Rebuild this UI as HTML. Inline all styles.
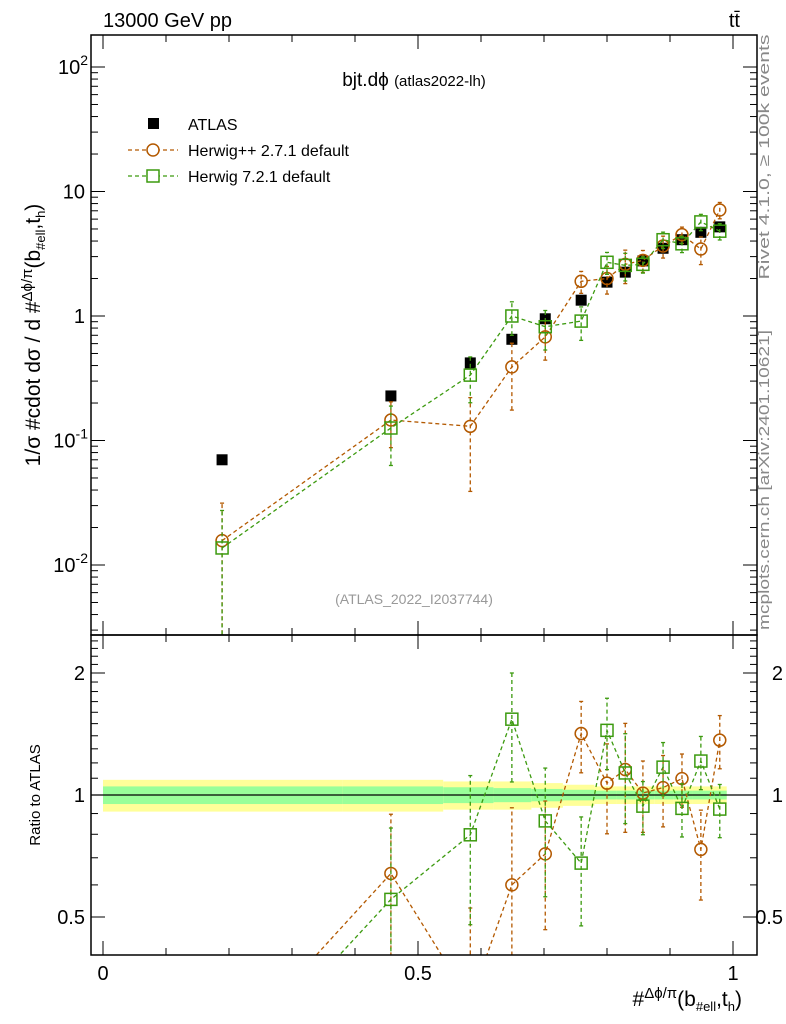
<!DOCTYPE html>
<html><head><meta charset="utf-8"><style>
html,body{margin:0;padding:0;background:#fff;overflow:hidden;width:786px;height:1024px;}
svg{display:block;font-family:"Liberation Sans",sans-serif;}
</style></head><body>
<svg id="chart" width="786" height="1024" viewBox="0 0 786 1024">
<text x="103" y="27" font-size="20">13000 GeV pp</text>
<text x="740" y="27" font-size="20" text-anchor="end">tt̄</text>
<text x="414" y="86" font-size="19" text-anchor="middle">bjt.dϕ <tspan font-size="15">(atlas2022-lh)</tspan></text>
<text x="414" y="604" font-size="14" fill="#999" text-anchor="middle">(ATLAS_2022_I2037744)</text>
<text transform="translate(769,157) rotate(-90)" font-size="15" fill="#888" text-anchor="middle" textLength="245" lengthAdjust="spacingAndGlyphs">Rivet 4.1.0, ≥ 100k events</text>
<text transform="translate(769,480) rotate(-90)" font-size="15" fill="#888" text-anchor="middle" textLength="300" lengthAdjust="spacingAndGlyphs">mcplots.cern.ch [arXiv:2401.10621]</text>
<text transform="translate(40,335) rotate(-90)" font-size="21" text-anchor="middle">1/σ #cdot dσ / d #<tspan font-size="15" dy="-8">Δϕ/π</tspan><tspan dy="8">(b</tspan><tspan font-size="13" dy="5">#ell</tspan><tspan dy="-5">,t</tspan><tspan font-size="13" dy="5">h</tspan><tspan dy="-5">)</tspan></text>
<text transform="translate(40,795) rotate(-90)" font-size="15" text-anchor="middle">Ratio to ATLAS</text>
<text x="742" y="1006" font-size="21" text-anchor="end">#<tspan font-size="15" dy="-8">Δϕ/π</tspan><tspan dy="8">(b</tspan><tspan font-size="13" dy="5">#ell</tspan><tspan dy="-5">,t</tspan><tspan font-size="13" dy="5">h</tspan><tspan dy="-5">)</tspan></text>
<g>
<rect x="148" y="118" width="11" height="11" fill="#000"/>
<text x="188" y="130" font-size="16">ATLAS</text>
<line x1="128" y1="150" x2="178" y2="150" stroke="#b35900" stroke-dasharray="4,3" stroke-width="1.3"/>
<circle cx="153" cy="150" r="6" fill="#fff" stroke="#b35900" stroke-width="1.5"/>
<text x="188" y="156" font-size="16">Herwig++ 2.7.1 default</text>
<line x1="128" y1="176" x2="178" y2="176" stroke="#3c9a0f" stroke-dasharray="4,3" stroke-width="1.3"/>
<rect x="147" y="170" width="12" height="12" fill="#fff" stroke="#3c9a0f" stroke-width="1.5"/>
<text x="188" y="182" font-size="16">Herwig 7.2.1 default</text>
</g>
<g id="plot"></g>
</svg>
<script>
const xVals=[0.189,0.457,0.583,0.649,0.702,0.759,0.800,0.829,0.857,0.889,0.919,0.949,0.979];
const binEdges=[0,0.38,0.54,0.62,0.68,0.73,0.78,0.815,0.845,0.875,0.905,0.935,0.965,0.99];
const atlasVals=[0.07,0.228,0.42,0.65,0.95,1.34,1.87,2.25,2.77,3.5,4.1,4.7,5.2];
const atlasErrY=[0.09,0.09,0.08,0.08,0.07,0.06,0.05,0.05,0.05,0.05,0.05,0.05,0.05];
const atlasErrG=[0.05,0.05,0.045,0.04,0.035,0.03,0.025,0.025,0.025,0.025,0.025,0.025,0.025];
const hppVals=[0.0157,0.146,0.13,0.39,0.68,1.9,2.0,2.6,2.8,3.65,4.5,3.45,7.1];
const hppErr=[1.0,0.4,0.7,0.55,0.35,0.2,0.25,0.3,0.2,0.2,0.15,0.25,0.15];
const h7Vals=[0.0137,0.126,0.335,1.0,0.82,0.91,2.7,2.55,2.6,4.1,3.8,5.7,4.8];
const h7Err=[1.0,0.5,0.4,0.3,0.35,0.3,0.2,0.25,0.15,0.15,0.15,0.15,0.15];
const NS='http://www.w3.org/2000/svg';
const g=document.getElementById('plot');
const X0=103,X1=733,ML=91,MR=757,MT=35,MB=635,RB=955;
const sx=v=>X0+v*(X1-X0);
const sy=v=>316-Math.log10(v)*124.5;
const sr=v=>795-Math.log2(v)*122;
function el(t,a,p){const e=document.createElementNS(NS,t);for(const k in a)e.setAttribute(k,a[k]);(p||g).appendChild(e);return e;}
const defs=el('defs',{});
const c1=el('clipPath',{id:'cm'},defs);el('rect',{x:ML,y:MT,width:MR-ML,height:MB-MT},c1);
const c2=el('clipPath',{id:'cr'},defs);el('rect',{x:ML,y:MB,width:MR-ML,height:RB-MB},c2);
const gm=el('g',{'clip-path':'url(#cm)'});
const gr=el('g',{'clip-path':'url(#cr)'});
for(let i=0;i<xVals.length;i++){
  const x=sx(binEdges[i]),w=sx(binEdges[i+1])-x;
  const b=el('rect',{x:x,y:sr(1+atlasErrY[i]),width:w,height:sr(1-atlasErrY[i])-sr(1+atlasErrY[i]),fill:'#ffff99'},gr);
  
  
  const b2=el('rect',{x:x,y:sr(1+atlasErrG[i]),width:w,height:sr(1-atlasErrG[i])-sr(1+atlasErrG[i]),fill:'#99ff99'},gr);
  
  
}
el('line',{x1:ML,x2:MR,y1:sr(1),y2:sr(1),stroke:'#000','stroke-width':1.3},gr);
function series(vals,err,col,shape,nm){
  [[gm,sy,vals,false],[gr,sr,vals.map((v,i)=>v/atlasVals[i]),true]].forEach(([par,f,vv,isR])=>{
    const pts=vv.map((v,i)=>sx(xVals[i])+','+f(v)).join(' ');
    const pl=el('polyline',{points:pts,fill:'none',stroke:col,'stroke-dasharray':'4,3','stroke-width':1.3},par);
    
    
    vv.forEach((v,i)=>{
      if(isR&&v<0.3)return;
      const x=sx(xVals[i]);const lo=Math.max(v*(1-err[i]),v*0.001),hi=v*(1+err[i]);
      el('line',{x1:x,x2:x,y1:f(lo),y2:f(hi),stroke:col,'stroke-dasharray':'4,3','stroke-width':1.3},par);
      el('line',{x1:x-2,x2:x+2,y1:f(hi),y2:f(hi),stroke:col,'stroke-width':1.3},par);
      el('line',{x1:x-2,x2:x+2,y1:f(lo),y2:f(lo),stroke:col,'stroke-width':1.3},par);
      let m;
      if(shape==='c')m=el('circle',{cx:x,cy:f(v),r:6,fill:'none',stroke:col,'stroke-width':1.5},par);
      else m=el('rect',{x:x-6,y:f(v)-6,width:12,height:12,fill:'none',stroke:col,'stroke-width':1.5},par);
      
      
    });
  });
}
atlasVals.forEach((v,i)=>{
  const r=el('rect',{x:sx(xVals[i])-5.5,y:sy(v)-5.5,width:11,height:11,fill:'#000'},gm);
  
  
});
series(hppVals,hppErr,'#b35900','c','herwigpp');
series(h7Vals,h7Err,'#3c9a0f','s','herwig7');
el('rect',{x:ML,y:MT,width:MR-ML,height:MB-MT,fill:'none',stroke:'#000','stroke-width':1.5});
el('rect',{x:ML,y:MB,width:MR-ML,height:RB-MB,fill:'none',stroke:'#000','stroke-width':1.5});
const decLabels=[['10','-2'],['10','-1'],['1',''],['10',''],['10','2']];
const decVals=[0.01,0.1,1,10,100];
for(let d=-3;d<=2;d++)for(let k=1;k<=9;k++){
  const v=k*Math.pow(10,d);const y=sy(v);if(y<MT||y>MB)continue;
  const L=k===1?14:7;
  el('line',{x1:ML,x2:ML+L,y1:y,y2:y,stroke:'#000'});el('line',{x1:MR,x2:MR-L,y1:y,y2:y,stroke:'#000'});
}
decVals.forEach((v,i)=>{
  const t=el('text',{x:ML-6,y:sy(v)+7,'font-size':20,'text-anchor':'end'});
  
  
  t.textContent=decLabels[i][0];
  if(decLabels[i][1]){const s=el('tspan',{'font-size':14,dy:-9},t);s.textContent=decLabels[i][1];t.setAttribute('x',ML-3);}
});
const rTicks=[0.5,1,2];
for(let v=0.4;v<=2.5;v+=0.1){const y=sr(v);if(y<MB||y>RB)continue;
  const maj=rTicks.some(t=>Math.abs(t-v)<1e-6);const L=maj?14:7;
  el('line',{x1:ML,x2:ML+L,y1:y,y2:y,stroke:'#000'});el('line',{x1:MR,x2:MR-L,y1:y,y2:y,stroke:'#000'});}
rTicks.forEach(v=>{
  const a=el('text',{x:ML-6,y:sr(v)+7,'font-size':20,'text-anchor':'end'});a.textContent=v;
  
  
  const b=el('text',{x:783,y:sr(v)+7,'font-size':20,'text-anchor':'end'});b.textContent=v;
  
  
});
for(let i=0;i<=10;i++){const x=sx(i/10);const L=i%5===0?14:7;
  [MT,MB].forEach(y=>el('line',{x1:x,x2:x,y1:y,y2:y+L,stroke:'#000'}));
  [MB,RB].forEach(y=>el('line',{x1:x,x2:x,y1:y,y2:y-L,stroke:'#000'}));}
const xLabels=['0','0.5','1'];
xLabels.forEach((s,i)=>{const t=el('text',{x:sx(i*0.5),y:980,'font-size':20,'text-anchor':'middle'});t.textContent=s;
  
  });
</script>
</body></html>
